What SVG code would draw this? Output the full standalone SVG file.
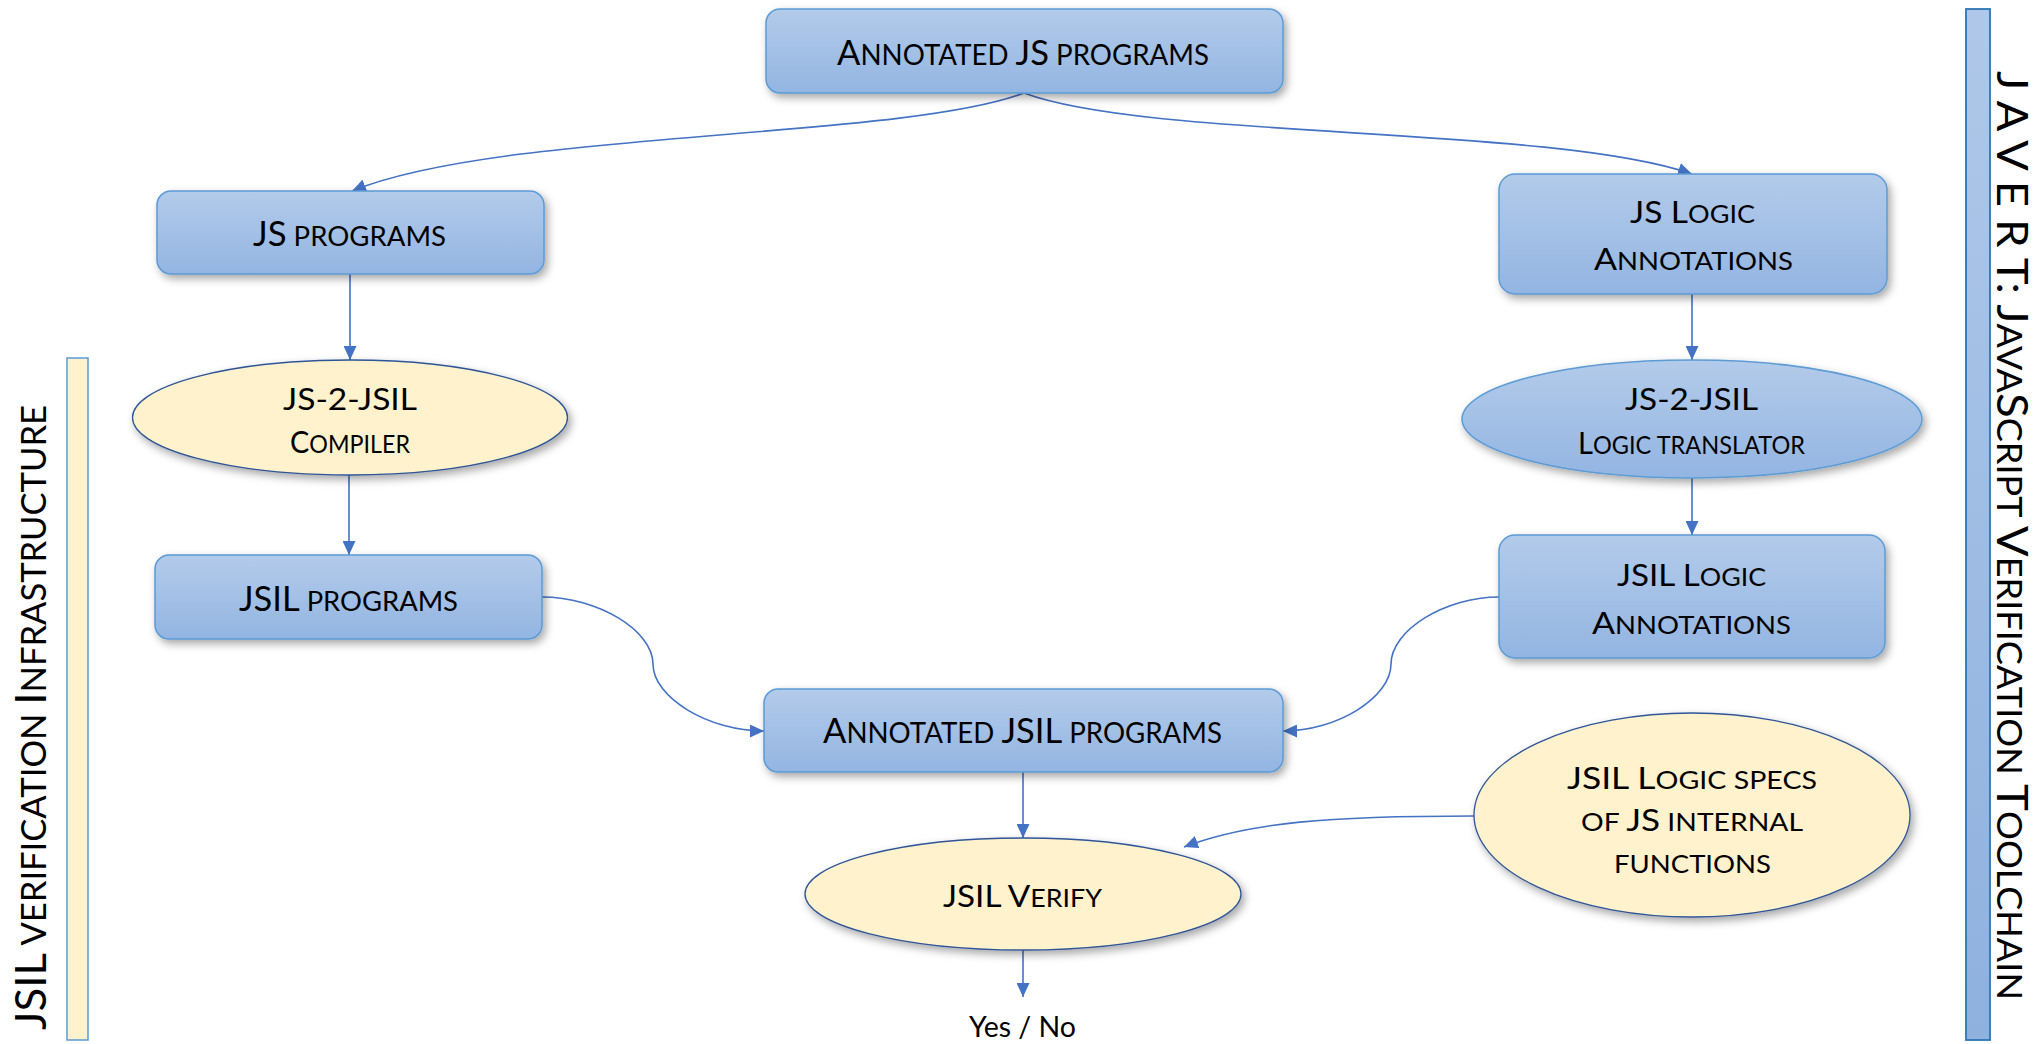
<svg xmlns="http://www.w3.org/2000/svg" width="2036" height="1044" viewBox="0 0 2036 1044">
  <defs>
    <linearGradient id="blueFill" x1="0" y1="0" x2="0" y2="1">
      <stop offset="0" stop-color="#B3CBEA"/>
      <stop offset="1" stop-color="#93B5E2"/>
    </linearGradient>
    <linearGradient id="barFill" x1="0" y1="0" x2="0" y2="1">
      <stop offset="0" stop-color="#AFC8E9"/>
      <stop offset="1" stop-color="#8FB1DE"/>
    </linearGradient>
    <filter id="shadow" x="-10%" y="-20%" width="125%" height="150%">
      <feDropShadow dx="3" dy="4" stdDeviation="4" flood-color="#000" flood-opacity="0.35"/>
    </filter>
    <marker id="arrow" markerUnits="userSpaceOnUse" markerWidth="15" markerHeight="13" refX="14" refY="6.5" orient="auto">
      <path d="M0,0 L14,6.5 L0,13 z" fill="#4472C4"/>
    </marker>
  </defs>
  <style>
    text { font-family: Lato, "Open Sans", "Liberation Sans", sans-serif; fill: #000; }
    .box { fill: url(#blueFill); stroke: #5B9BD5; stroke-width: 1.5; filter: url(#shadow); }
    .proc { fill: #FFF2CC; stroke: #2F5597; stroke-width: 1.3; filter: url(#shadow); }
    .conn { fill: none; stroke: #4472C4; stroke-width: 1.6; marker-end: url(#arrow); }
    .b34 { font-size: 35px; } .s27 { font-size: 28px; }
    .b33 { font-size: 34px; } .s26 { font-size: 27px; }
    .b30 { font-size: 31px; } .s24 { font-size: 25px; }
    .b43 { font-size: 43px; } .s34 { font-size: 34px; }
  </style>

  <rect width="2036" height="1044" fill="#FFFFFF"/>

  <!-- side bars -->
  <g id="jsil-infrastructure">
    <rect x="67" y="358" width="21" height="682" fill="#FFF2CC" stroke="#5B9BD5" stroke-width="1.5"/>
    <text transform="translate(46,1030) rotate(-90)" x="0" y="0" textLength="625" lengthAdjust="spacingAndGlyphs"><tspan class="b43">JSIL</tspan><tspan class="s34"> VERIFICATION </tspan><tspan class="b43">I</tspan><tspan class="s34">NFRASTRUCTURE</tspan></text>
  </g>
  <g id="javert-toolchain">
    <rect x="1966" y="9" width="24" height="1031" fill="url(#barFill)" stroke="#2E75B6" stroke-width="1.8"/>
    <text transform="translate(1997,71) rotate(90)" x="0" y="0" textLength="929" lengthAdjust="spacingAndGlyphs"><tspan class="b43">J A V E R T: J</tspan><tspan class="s34">AVA</tspan><tspan class="b43">S</tspan><tspan class="s34">CRIPT </tspan><tspan class="b43">V</tspan><tspan class="s34">ERIFICATION </tspan><tspan class="b43">T</tspan><tspan class="s34">OOLCHAIN</tspan></text>
  </g>

  <!-- connectors -->
  <g id="connectors">
    <path class="conn" d="M1024,93 C900,140 500,130 352,191"/>
    <path class="conn" d="M1024,93 C1150,140 1550,125 1692,174"/>
    <path class="conn" d="M350,274 L350,360"/>
    <path class="conn" d="M349,475 L349,555"/>
    <path class="conn" d="M1692,294 L1692,360"/>
    <path class="conn" d="M1692,478 L1692,535"/>
    <path class="conn" d="M542,597 C597.5,597 653,630.5 653,664 C653,697.5 708.5,731 764,731"/>
    <path class="conn" d="M1499,597 C1445,597 1391,630.5 1391,664 C1391,697.5 1337,731 1283,731"/>
    <path class="conn" d="M1023,772 L1023,838"/>
    <path class="conn" d="M1474,816 C1330,816 1250,822 1184,847"/>
    <path class="conn" d="M1023,950 L1023,997"/>
  </g>

  <!-- nodes -->
  <g id="annotated-js">
    <rect class="box" x="766" y="9" width="517" height="84" rx="14"/>
    <text x="837" y="65" textLength="372" lengthAdjust="spacingAndGlyphs"><tspan class="b34">A</tspan><tspan class="s27">NNOTATED </tspan><tspan class="b34">JS</tspan><tspan class="s27"> PROGRAMS</tspan></text>
  </g>
  <g id="js-programs">
    <rect class="box" x="157" y="191" width="387" height="83" rx="14"/>
    <text x="253" y="246" textLength="193" lengthAdjust="spacingAndGlyphs"><tspan class="b33">JS</tspan><tspan class="s26"> PROGRAMS</tspan></text>
  </g>
  <g id="js-logic-annotations">
    <rect class="box" x="1499" y="174" width="388" height="120" rx="16"/>
    <text x="1630" y="223" textLength="125" lengthAdjust="spacingAndGlyphs"><tspan class="b30">JS L</tspan><tspan class="s24">OGIC</tspan></text>
    <text x="1594" y="270" textLength="199" lengthAdjust="spacingAndGlyphs"><tspan class="b30">A</tspan><tspan class="s24">NNOTATIONS</tspan></text>
  </g>
  <g id="js2jsil-compiler">
    <ellipse class="proc" cx="350" cy="417.5" rx="217.5" ry="57.5"/>
    <text x="283" y="410" textLength="134" lengthAdjust="spacingAndGlyphs" class="b30">JS-2-JSIL</text>
    <text x="290" y="453" textLength="120" lengthAdjust="spacingAndGlyphs"><tspan class="b30">C</tspan><tspan class="s24">OMPILER</tspan></text>
  </g>
  <g id="js2jsil-logic-translator">
    <ellipse class="box" cx="1692" cy="419" rx="230" ry="59"/>
    <text x="1625" y="410" textLength="133" lengthAdjust="spacingAndGlyphs" class="b30">JS-2-JSIL</text>
    <text x="1578" y="454" textLength="227" lengthAdjust="spacingAndGlyphs"><tspan class="b30">L</tspan><tspan class="s24">OGIC TRANSLATOR</tspan></text>
  </g>
  <g id="jsil-programs">
    <rect class="box" x="155" y="555" width="387" height="84" rx="14"/>
    <text x="239" y="611" textLength="219" lengthAdjust="spacingAndGlyphs"><tspan class="b33">JSIL</tspan><tspan class="s26"> PROGRAMS</tspan></text>
  </g>
  <g id="jsil-logic-annotations">
    <rect class="box" x="1499" y="535" width="386" height="123" rx="16"/>
    <text x="1617" y="586" textLength="149" lengthAdjust="spacingAndGlyphs"><tspan class="b30">JSIL L</tspan><tspan class="s24">OGIC</tspan></text>
    <text x="1592" y="634" textLength="199" lengthAdjust="spacingAndGlyphs"><tspan class="b30">A</tspan><tspan class="s24">NNOTATIONS</tspan></text>
  </g>
  <g id="annotated-jsil">
    <rect class="box" x="764" y="689" width="519" height="83" rx="14"/>
    <text x="823" y="743" textLength="399" lengthAdjust="spacingAndGlyphs"><tspan class="b34">A</tspan><tspan class="s27">NNOTATED </tspan><tspan class="b34">JSIL</tspan><tspan class="s27"> PROGRAMS</tspan></text>
  </g>
  <g id="jsil-logic-specs">
    <ellipse class="proc" cx="1692" cy="815" rx="218" ry="102"/>
    <text x="1567" y="789" textLength="250" lengthAdjust="spacingAndGlyphs"><tspan class="b30">JSIL L</tspan><tspan class="s24">OGIC SPECS</tspan></text>
    <text x="1581" y="831" textLength="222" lengthAdjust="spacingAndGlyphs"><tspan class="s24">OF </tspan><tspan class="b30">JS</tspan><tspan class="s24"> INTERNAL</tspan></text>
    <text x="1614" y="873" textLength="157" lengthAdjust="spacingAndGlyphs" class="s24">FUNCTIONS</text>
  </g>
  <g id="jsil-verify">
    <ellipse class="proc" cx="1023" cy="894" rx="218" ry="56"/>
    <text x="943" y="907" textLength="159" lengthAdjust="spacingAndGlyphs"><tspan class="b30">JSIL V</tspan><tspan class="s24">ERIFY</tspan></text>
  </g>
  <g id="result">
    <text x="969" y="1037" textLength="107" lengthAdjust="spacingAndGlyphs" style="font-size:29px">Yes / No</text>
  </g>
</svg>
